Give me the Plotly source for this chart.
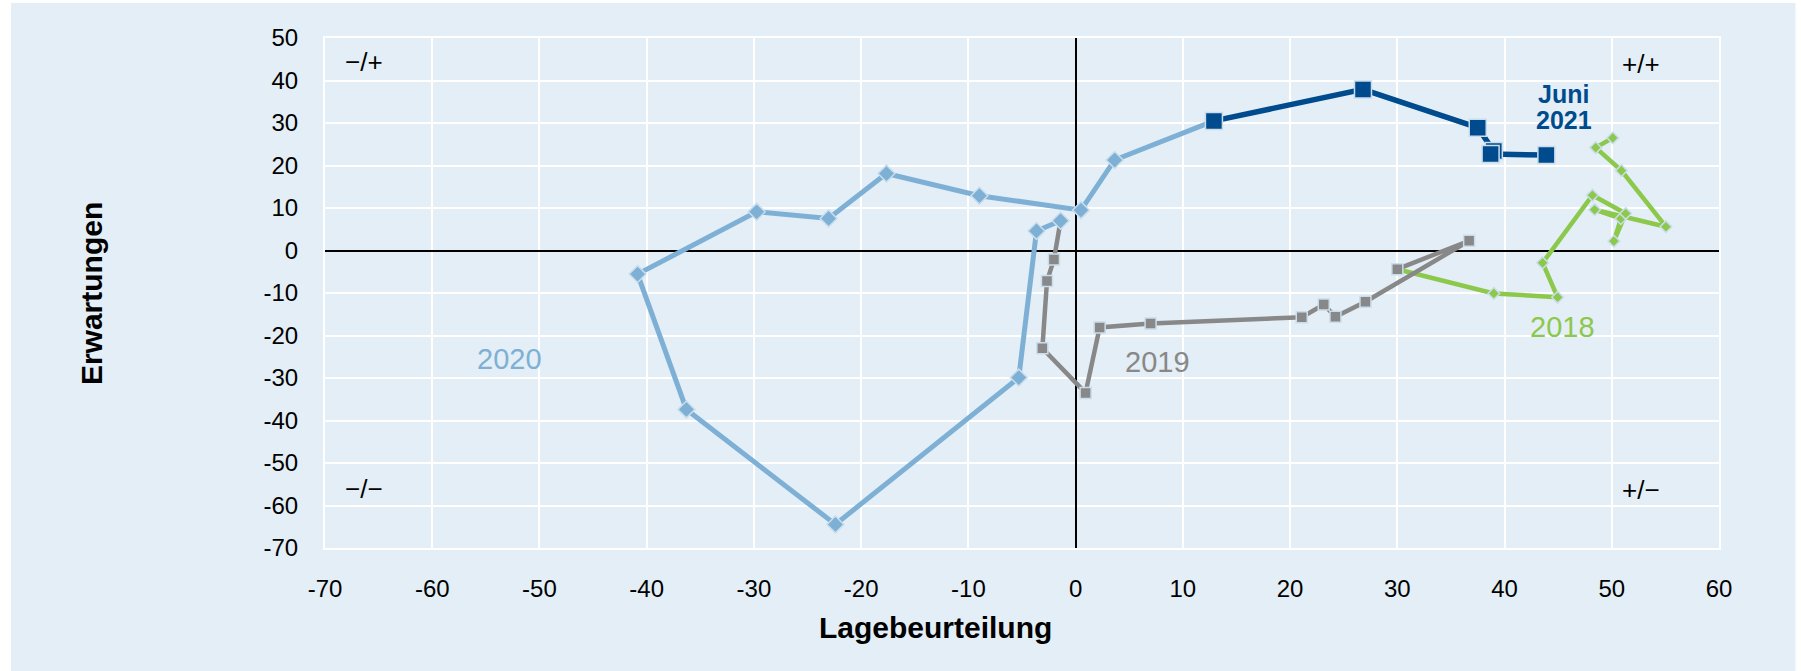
import plotly.graph_objects as go

# ---- data (Lagebeurteilung x, Erwartungen y), monthly ----
x2018 = [50.1, 48.5, 50.9, 55.05, 48.4, 50.85, 50.2, 51.3, 48.2, 43.55, 44.95, 39.0]
y2018 = [26.5, 24.2, 18.8, 5.6, 9.6, 7.5, 2.2, 8.7, 13.0, -2.9, -11.0, -10.1]

x2019 = [30.0, 36.7, 27.03, 24.23, 23.14, 21.09, 6.99, 2.24, 0.93, -3.1, -2.67, -2.02]
y2019 = [-4.4, 2.3, -12.07, -15.6, -12.7, -15.7, -17.2, -18.1, -33.5, -23.0, -7.2, -2.1]

x2020 = [-1.4, -3.65, -5.3, -22.4, -36.3, -40.85, -29.74, -23.04, -17.64, -8.97, 0.5, 3.64]
y2020 = [7.0, 4.6, -29.9, -64.45, -37.4, -5.55, 9.1, 7.55, 18.1, 12.9, 9.5, 21.3]

x2021 = [12.9, 26.8, 37.5, 39.0, 38.7, 43.9]
y2021 = [30.5, 37.9, 28.9, 23.4, 22.7, 22.45]

tick_x = [-70, -60, -50, -40, -30, -20, -10, 0, 10, 20, 30, 40, 50, 60]
tick_y = [-70, -60, -50, -40, -30, -20, -10, 0, 10, 20, 30, 40, 50]
tick_x_text = [str(v) for v in tick_x]
tick_y_text = [str(v) for v in tick_y]

# ---- styles ----
BG = "#E3EEF6"
C2018 = "#8CC84B"
C2019 = "#888888"
C2020 = "#7EB0D5"
C2021 = "#004B8D"
MK_LINE = "#CADDEC"
FONT = "Liberation Sans, Arial, sans-serif"

fig = go.Figure()

series = [
    (x2018, y2018, x2019[0], y2019[0], C2018, "diamond", 9, 4.5),
    (x2019, y2019, x2020[0], y2020[0], C2019, "square", 11, 4.5),
    (x2020, y2020, x2021[0], y2021[0], C2020, "diamond", 13, 5),
    (x2021, y2021, None, None, C2021, "square", 17, 5.5),
]
for xs, ys, nx, ny, col, sym, msize, lw in series:
    lx = list(xs) + ([nx] if nx is not None else [])
    ly = list(ys) + ([ny] if ny is not None else [])
    fig.add_trace(go.Scatter(x=lx, y=ly, mode="lines",
                             line=dict(color=col, width=lw),
                             hoverinfo="skip", showlegend=False))
    fig.add_trace(go.Scatter(x=xs, y=ys, mode="markers",
                             marker=dict(symbol=sym, size=msize, color=col,
                                         line=dict(color=MK_LINE, width=1.5)),
                             showlegend=False))

W, H = 1801, 671
L, R, T, B = 325, 81.5, 38, 123
pw, ph = W - L - R, H - T - B

def px_to_paper_x(px):
    return (px - L) / pw

def px_to_paper_y(py):
    return (H - B - py) / ph

annotations = [
    dict(text="Lagebeurteilung", xref="paper", yref="paper",
         x=px_to_paper_x(936), y=px_to_paper_y(628), showarrow=False,
         xanchor="center", yanchor="middle",
         font=dict(family=FONT, size=30, color="black", weight="bold")),
    dict(text="Erwartungen", xref="paper", yref="paper",
         x=px_to_paper_x(91), y=px_to_paper_y(294), showarrow=False,
         textangle=-90, xanchor="center", yanchor="middle",
         font=dict(family=FONT, size=30, color="black", weight="bold")),
    dict(text="\u2212/+", x=-66.4, y=44.4, showarrow=False,
         font=dict(family=FONT, size=26, color="black")),
    dict(text="+/+", x=52.75, y=44.0, showarrow=False,
         font=dict(family=FONT, size=26, color="black")),
    dict(text="\u2212/\u2212", x=-66.4, y=-56.1, showarrow=False,
         font=dict(family=FONT, size=26, color="black")),
    dict(text="+/\u2212", x=52.75, y=-56.3, showarrow=False,
         font=dict(family=FONT, size=26, color="black")),
    dict(text="2020", x=-52.8, y=-25.6, showarrow=False,
         font=dict(family=FONT, size=29, color=C2020)),
    dict(text="2019", x=7.6, y=-26.3, showarrow=False,
         font=dict(family=FONT, size=29, color=C2019)),
    dict(text="2018", x=45.4, y=-17.9, showarrow=False,
         font=dict(family=FONT, size=29, color=C2018)),
    dict(text="Juni", x=45.5, y=36.8, showarrow=False,
         font=dict(family=FONT, size=25, color=C2021, weight="bold")),
    dict(text="2021", x=45.5, y=30.7, showarrow=False,
         font=dict(family=FONT, size=25, color=C2021, weight="bold")),
]

shapes = [
    dict(type="rect", xref="paper", yref="paper", layer="below",
         x0=px_to_paper_x(11), x1=px_to_paper_x(1796),
         y0=px_to_paper_y(H + 5), y1=px_to_paper_y(3),
         fillcolor=BG, line=dict(width=0)),
]

fig.update_layout(
    width=W, height=H,
    margin=dict(l=L, r=R, t=T, b=B, pad=0),
    paper_bgcolor="white", plot_bgcolor=BG,
    font=dict(family=FONT, size=24, color="black"),
    annotations=annotations, shapes=shapes,
    showlegend=False,
)
fig.update_xaxes(range=[-70, 60], tickmode="array", tickvals=tick_x, ticktext=tick_x_text,
                 showgrid=True, gridcolor="white", gridwidth=2,
                 zeroline=True, zerolinecolor="black", zerolinewidth=2,
                 showline=True, linecolor="white", linewidth=2, mirror=True,
                 ticks="", ticklabelstandoff=18,
                 tickfont=dict(family=FONT, size=24, color="black"))
fig.update_yaxes(range=[-70, 50], tickmode="array", tickvals=tick_y, ticktext=tick_y_text,
                 showgrid=True, gridcolor="white", gridwidth=2,
                 zeroline=True, zerolinecolor="black", zerolinewidth=2,
                 showline=True, linecolor="white", linewidth=2, mirror=True,
                 ticks="", ticklabelstandoff=20,
                 tickfont=dict(family=FONT, size=24, color="black"))

fig.write_html(
    "out.html",
    config={"displayModeBar": False},
    post_script="document.body.style.margin='0';document.body.style.overflow='hidden';",
)
